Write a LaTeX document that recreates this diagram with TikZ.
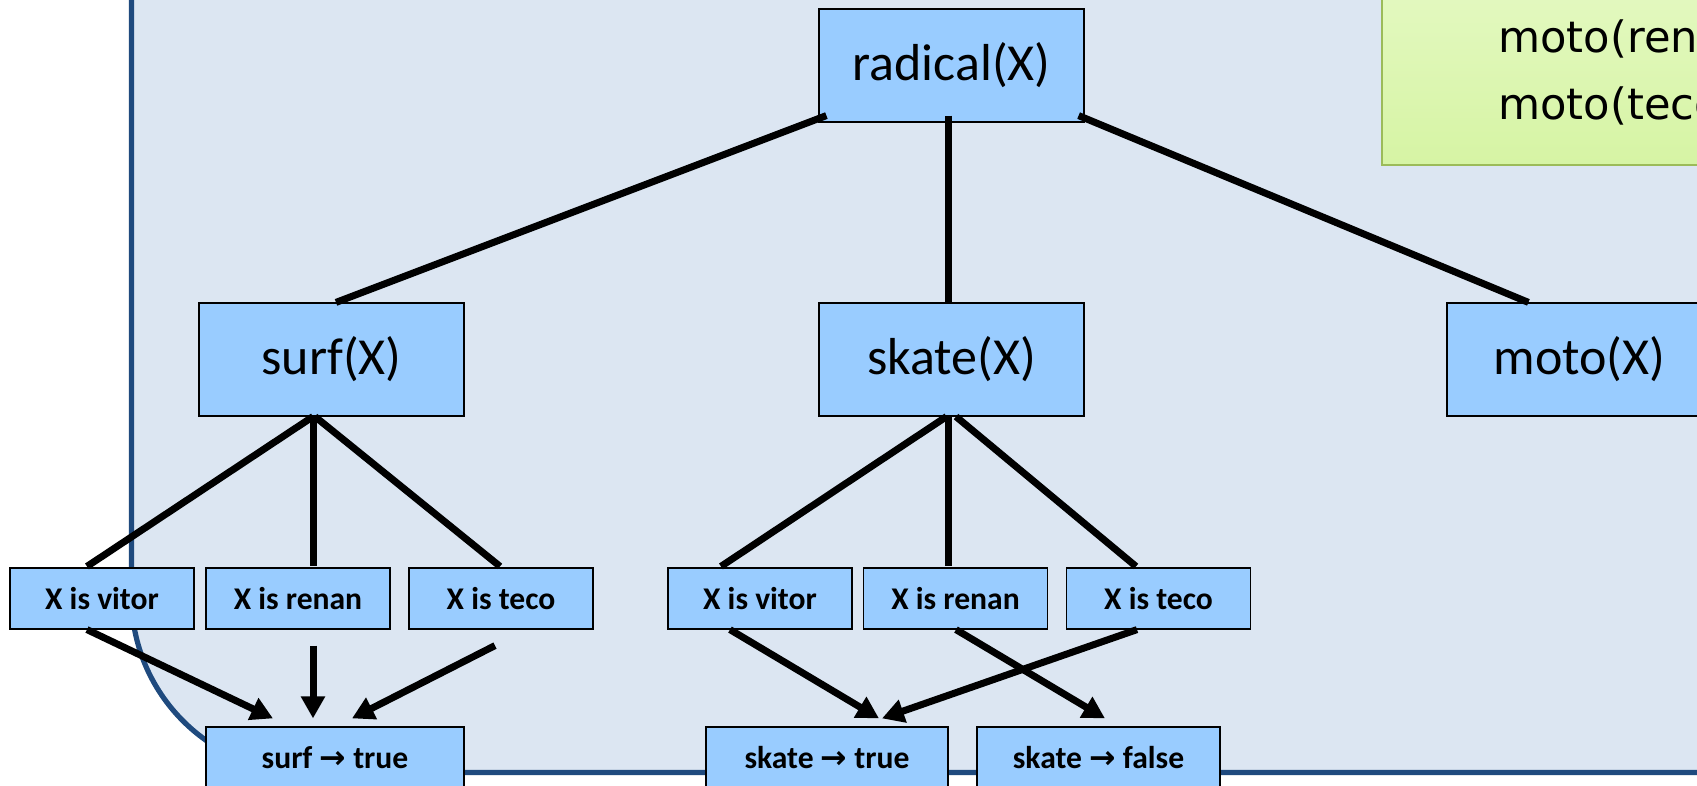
\documentclass[tikz,border=0pt]{standalone}
\usepackage{fontspec}
\setmainfont{Carlito}
\newfontfamily\symfont{DejaVu Sans}
\usetikzlibrary{arrows.meta,calc}
\definecolor{panelfill}{HTML}{DCE6F2}
\definecolor{panelline}{HTML}{1F4A7E}
\definecolor{boxfill}{HTML}{99CCFF}
\definecolor{notetop}{HTML}{E4F9C2}
\definecolor{notebottom}{HTML}{D6F4A4}
\definecolor{noteline}{HTML}{9BBB59}
\newcommand{\implies}{{\symfont\bfseries →}}

\begin{document}
\begin{tikzpicture}[x=0.5pt,y=-0.5pt,
  goal/.style={draw=black, line width=0.6pt, fill=boxfill,
    minimum width=132.5pt, minimum height=56.5pt, inner sep=0pt,
    font=\fontsize{26}{30}\selectfont},
  cond/.style={draw=black, line width=0.6pt, fill=boxfill,
    minimum width=92pt, minimum height=30.5pt, inner sep=0pt,
    font=\fontsize{15.8}{19}\selectfont\bfseries},
  link/.style={line width=3.5pt, black},
  imply/.style={link, -{Triangle[length=11pt,width=11.5pt]}},
  fact/.style={anchor=base west, inner sep=0pt, font=\symfont\fontsize{21.6}{25}\selectfont},
]
\useasboundingbox (0,0) rectangle (1697,786);
\clip (0,0) rectangle (1697,786);
\fill[white] (0,0) rectangle (1697,786);

% slide panel with a large rounded lower-left corner
\filldraw[fill=panelfill, draw=panelline, line width=2.6pt]
  (131.5,-20) -- (131.5,596.5) arc[start angle=180, end angle=270, radius=88pt]
  -- (1760,772.5) -- (1760,-20) -- cycle;

% facts note in the upper right corner
\node[draw=noteline, line width=0.8pt, top color=notetop, bottom color=notebottom,
  minimum width=190pt, minimum height=95pt, anchor=south west, inner sep=0pt]
  (note) at (1381,166) {};
\node[fact] (fact1) at (1498,53) {moto(renan).};
\node[fact] (fact2) at (1498,120) {moto(teco).};

% goal nodes
\node[goal] (radical) at (951.5,65.5) {radical(X)};
\node[goal] (surf) at (331.5,359.5) {surf(X)};
\node[goal] (skate) at (951.5,359.5) {skate(X)};
\node[goal] (moto) at (1579.5,359.5) {moto(X)};

% candidate bindings
\node[cond] (vitorA) at (102,598.5) {X is vitor};
\node[cond] (renanA) at (298,598.5) {X is renan};
\node[cond] (tecoA) at (501,598.5) {X is teco};
\node[cond] (vitorB) at (760,598.5) {X is vitor};
\node[cond] (renanB) at (955.5,598.5) {X is renan};
\node[cond] (tecoB) at (1158.5,598.5) {X is teco};

% outcomes
\node[cond, minimum width=129pt] (surfT) at (335,757.5) {surf \implies{} true};
\node[cond, minimum width=121pt] (skateT) at (827,757.5) {skate \implies{} true};
\node[cond, minimum width=121.5pt] (skateF) at (1098.5,757.5) {skate \implies{} false};

% tree edges
\draw[link] ($(radical.south west)+(8,-7)$) -- ($(surf.north)+(4.5,0)$);
\draw[link] ($(radical.south)+(-3.5,-7)$) -- ($(skate.north)+(-3.5,0)$);
\draw[link] ($(radical.south east)+(-6,-7)$) -- ($(moto.north west)+(82,0)$);

\draw[link] ($(surf.south)+(-18.5,0)$) -- ($(vitorA.north)+(-15,-1)$);
\draw[link] ($(surf.south)+(-18.5,0)$) -- ($(renanA.north)+(15,-1)$);
\draw[link] ($(surf.south)+(-16.5,0)$) -- ($(tecoA.north)+(-1,-1)$);

\draw[link] ($(skate.south)+(-5,0)$) -- ($(vitorB.north)+(-39,-1)$);
\draw[link] ($(skate.south)+(-3.5,0)$) -- ($(renanB.north)+(-7.5,-1)$);
\draw[link] ($(skate.south)+(4.5,0)$) -- ($(tecoB.north)+(-22.5,-1)$);

% results
\draw[imply] ($(vitorA.south)+(-15,0)$) -- ($(surfT.north)+(-62,-8)$);
\draw[imply] ($(renanA.south)+(15,16)$) -- ($(surfT.north)+(-22,-8)$);
\draw[imply] ($(tecoA.south)+(-6,16)$) -- ($(surfT.north)+(17,-8)$);

\draw[imply] ($(vitorB.south)+(-30,0)$) -- ($(skateT.north)+(52,-8)$);
\draw[imply] ($(tecoB.south)+(-21.5,0)$) -- ($(skateT.north)+(55,-8)$);
\draw[imply] ($(renanB.south)+(0.5,0)$) -- ($(skateF.north)+(6.5,-8)$);
\end{tikzpicture}
\end{document}
